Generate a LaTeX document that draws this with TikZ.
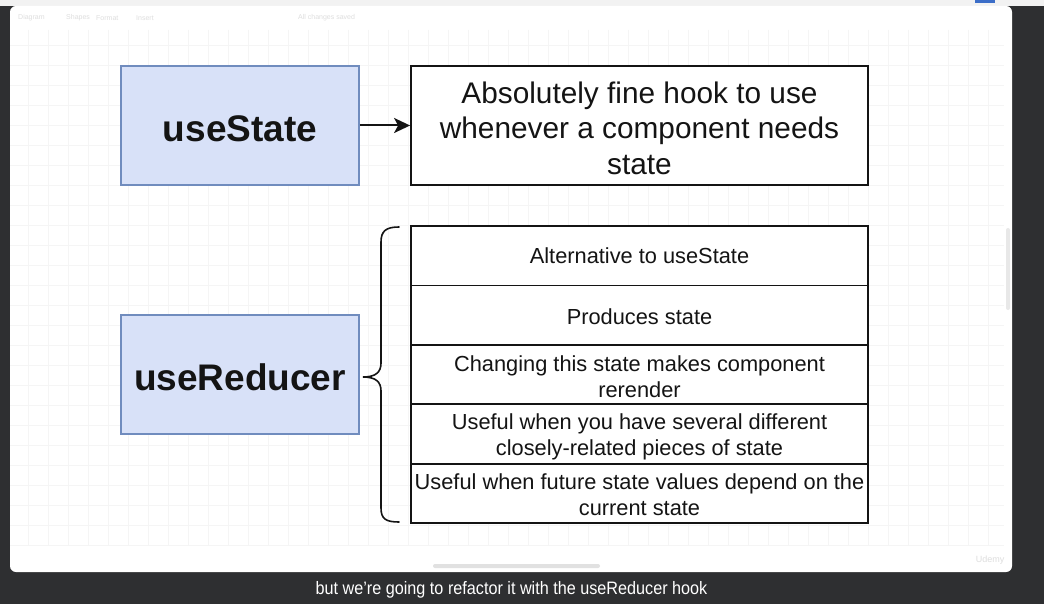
\documentclass[tikz,border=0pt]{standalone}
\usepackage{fontspec}
\setmainfont{Liberation Sans}
\usetikzlibrary{arrows.meta}
\definecolor{bgdark}{RGB}{46,47,49}
\definecolor{gridc}{RGB}{245,245,245}
\definecolor{hookfill}{RGB}{216,225,248}
\definecolor{hookdraw}{RGB}{112,140,190}
\definecolor{inkc}{RGB}{20,20,20}
\definecolor{faint}{RGB}{222,222,222}
\tikzset{
  hook/.style={draw=hookdraw, line width=1.5pt, fill=hookfill, minimum width=238pt, minimum height=119pt, inner sep=0pt},
  hooktext/.style={inner sep=0pt, text=inkc, font=\bfseries\fontsize{37}{40}\selectfont},
  descbox/.style={draw=inkc, line width=1.8pt, fill=white, minimum width=457pt, minimum height=119pt, inner sep=0pt},
  desctext/.style={inner sep=0pt, align=center, text=inkc, font=\fontsize{29.8}{35.5}\selectfont},
  rowbox/.style={draw=inkc, line width=1.8pt, fill=white, minimum width=457pt, minimum height=59.4pt, inner sep=0pt},
  rowtext/.style={inner sep=0pt, align=center, text=inkc, font=\fontsize{21.8}{26}\selectfont},
  toolbar/.style={text=faint, font=\fontsize{7}{8}\selectfont, anchor=west, inner sep=0pt}
}
\begin{document}
\begin{tikzpicture}[x=1pt,y=-1pt]
\useasboundingbox (0,0) rectangle (1044,604);
% background
\fill[bgdark] (0,0) rectangle (1044,604);
\fill[color={rgb,255:red,242;green,242;blue,242}] (0,0) rectangle (1044,6);
\fill[color={rgb,255:red,60;green,110;blue,200}] (975,0) rectangle (995,3);
% canvas
\fill[white, rounded corners=6pt] (10,6) rectangle (1012,572);
\begin{scope}
\clip (10,30) rectangle (1004,545);
\foreach \gx in {8,28,...,1008} \draw[gridc, line width=0.6pt] (\gx,30) -- (\gx,545);
\foreach \gy in {25,45,...,545} \draw[gridc, line width=0.6pt] (10,\gy) -- (1004,\gy);
\end{scope}
% toolbar
\node[toolbar] (tb1) at (18,18) {Diagram};
\node[toolbar] (tb2) at (66,18) {Shapes};
\node[toolbar] (tb3) at (96,18) {Format};
\node[toolbar] (tb4) at (136,18) {Insert};
\node[toolbar] (tb5) at (298,18) {All changes saved};
% scrollbars
\fill[color={rgb,255:red,225;green,225;blue,225}, rounded corners=2pt] (433,564) rectangle (600,568);
\fill[color={rgb,255:red,232;green,232;blue,232}, rounded corners=2pt] (1006,228) rectangle (1010,310);
\node[text=faint, font=\fontsize{9}{10}\selectfont] (udemy) at (990,560) {Udemy};
% top row
\node[hook] (us) at (240,125.5) {};
\node[hooktext] (usT) at ([yshift=-3.5pt]us.center) {useState};
\node[descbox] (desc) at (639.5,125.5) {};
\node[desctext] (descT) at ([yshift=-2.5pt]desc.center) {Absolutely fine hook to use\\whenever a component needs\\state};
\draw[line width=2pt, inkc, -{Stealth[length=16pt,width=15pt,inset=4pt]}] (us.east) -- (desc.west);
% useReducer
\node[hook] (ur) at (240,374.5) {};
\node[hooktext] (urT) at ([yshift=-3pt]ur.center) {useReducer};
\node[rowbox] (r1) at (639.5,255.7) {};
\node[rowbox] (r2) at (639.5,315.1) {};
\node[rowbox] (r3) at (639.5,374.5) {};
\node[rowbox] (r4) at (639.5,433.9) {};
\node[rowbox] (r5) at (639.5,493.3) {};
\node[rowtext] (r1T) at (r1.center) {Alternative to useState};
\node[rowtext] (r2T) at ([yshift=-2pt]r2.center) {Produces state};
\node[rowtext] (r3T) at ([yshift=-2pt]r3.center) {Changing this state makes component\\rerender};
\node[rowtext] (r4T) at ([yshift=-2.5pt]r4.center) {Useful when you have several different\\closely-related pieces of state};
\node[rowtext] (r5T) at ([yshift=-1pt]r5.center) {Useful when future state values depend on the\\current state};
% brace
\draw[inkc, line width=1.6pt, line cap=round]
  (399,227) .. controls (386,227) and (381,231) .. (381,242)
  -- (381,363) .. controls (381,372) and (376,377) .. (363,377)
  .. controls (376,377) and (381,382) .. (381,391)
  -- (381,508) .. controls (381,519) and (386,522) .. (399,522);
% subtitle
\node[text=white, font=\fontsize{18}{20}\selectfont] (sub) at (511.5,590) {\scalebox{0.9}[1]{but we're going to refactor it with the useReducer hook}};
\end{tikzpicture}
\end{document}
